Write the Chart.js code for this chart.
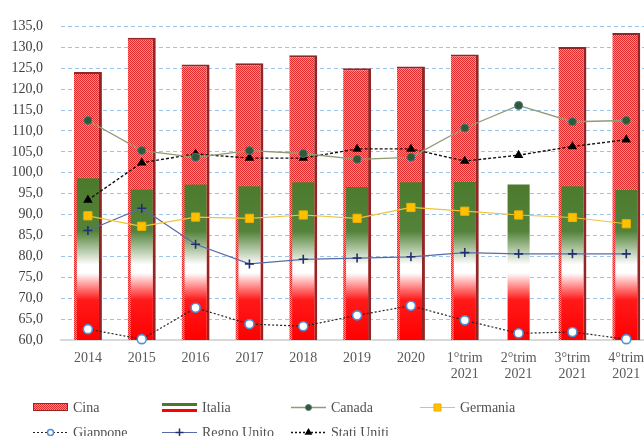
<!DOCTYPE html>
<html><head><meta charset="utf-8">
<script src="https://cdn.jsdelivr.net/npm/chart.js@4"></script>
<style>html,body{margin:0;padding:0;overflow:hidden;background:#fff}canvas{display:block}</style>
</head><body>
<canvas id="c" width="660" height="436"></canvas>
<script>
const categories = ['2014','2015','2016','2017','2018','2019','2020',['1°trim','2021'],['2°trim','2021'],['3°trim','2021'],['4°trim','2021']];
const cina       = [124.1,132.3,125.9,126.2,128.1,125.0,125.4,128.3,null,130.1,133.4];
const italia     = [98.7,96.0,97.2,96.8,97.7,96.6,97.7,97.8,97.2,96.8,95.9];
const canada     = [112.5,105.3,103.7,105.3,104.6,103.2,103.7,110.7,116.1,112.2,112.5];
const germania   = [89.7,87.2,89.4,89.1,89.9,89.1,91.7,90.8,89.9,89.3,87.8];
const giappone   = [62.6,60.2,67.7,63.8,63.3,65.9,68.2,64.7,61.6,61.9,60.2];
const regnoUnito = [86.2,91.5,82.9,78.2,79.3,79.6,79.9,80.9,80.6,80.6,80.6];
const statiUniti = [93.5,102.4,104.5,103.5,103.5,105.7,105.7,102.8,104.2,106.3,107.9];

const canvas = document.getElementById('c');
const ctx2d = canvas.getContext('2d');
const FONT = '"Liberation Serif", "DejaVu Serif", serif';

function makePattern(c){
  const p = document.createElement('canvas'); p.width = 2; p.height = 2;
  const g = p.getContext('2d');
  g.fillStyle = '#f59090'; g.fillRect(0,0,2,2);
  g.fillStyle = '#e42a2a'; g.fillRect(0,0,1,1); g.fillRect(1,1,1,1);
  return c.createPattern(p,'repeat');
}
const cinaPattern = makePattern(ctx2d);

function italiaGrad(context){
  const chart = context.chart;
  const area = chart.chartArea;
  if (!area) return '#4b7a2b';
  const y = chart.scales.y;
  const g = chart.ctx.createLinearGradient(0, y.getPixelForValue(100), 0, y.getPixelForValue(60));
  g.addColorStop(0, '#4a792a');
  g.addColorStop(0.35, '#53823a');
  g.addColorStop(0.45, '#a9c19b');
  g.addColorStop(0.55, '#ffffff');
  g.addColorStop(0.6, '#ffffff');
  g.addColorStop(0.68, '#ff8a8a');
  g.addColorStop(0.76, '#ff1a1a');
  g.addColorStop(1, '#ff0000');
  return g;
}

function drawMarker(c, style, x, y, r, fill, stroke, lw){
  c.save();
  c.beginPath();
  c.lineWidth = lw; c.fillStyle = fill; c.strokeStyle = stroke;
  if (style === 'circle'){ c.arc(x,y,r,0,Math.PI*2); c.fill(); if (lw) c.stroke(); }
  else if (style === 'rect'){ const s = Math.SQRT1_2*r; c.rect(x-s,y-s,2*s,2*s); c.fill(); if (lw) c.stroke(); }
  else if (style === 'triangle'){
    c.moveTo(x, y - r); c.lineTo(x + r*0.866, y + r*0.5); c.lineTo(x - r*0.866, y + r*0.5); c.closePath(); c.fill(); if (lw) c.stroke();
  }
  else if (style === 'cross'){ c.moveTo(x-r,y); c.lineTo(x+r,y); c.moveTo(x,y-r); c.lineTo(x,y+r); c.stroke(); }
  c.restore();
}

const legendItems = [
  {label:'Cina', kind:'cina', col:0, row:0},
  {label:'Italia', kind:'italia', col:1, row:0},
  {label:'Canada', kind:'line', col:2, row:0, line:'#8e9b74', dash:[], lw:1.3, ps:'circle', r:3, fill:'#2e5c2e', stroke:'#50708c', plw:1},
  {label:'Germania', kind:'line', col:3, row:0, line:'#f2c23a', dash:[], lw:1.2, ps:'rect', r:5, fill:'#ffc000', stroke:'#f0b000', plw:1},
  {label:'Giappone', kind:'line', col:0, row:1, line:'#222', dash:[2,2], lw:1.2, ps:'circle', r:3, fill:'#ffffff', stroke:'#4a90d9', plw:1.5},
  {label:'Regno Unito', kind:'line', col:1, row:1, line:'#5a6aa6', dash:[], lw:1.2, ps:'cross', r:4, fill:'#203070', stroke:'#203070', plw:1.5},
  {label:'Stati Uniti', kind:'line', col:2, row:1, line:'#111', dash:[2,2], lw:1.3, ps:'triangle', r:4.5, fill:'#000', stroke:'#000', plw:0}
];
const legendPlugin = {
  id:'gridLegend',
  afterDraw(chart){
    const c = chart.ctx;
    const colX = [33,162,291,420];
    const rowY = [407,432];
    legendItems.forEach(it => {
      const x = colX[it.col], y = rowY[it.row];
      c.save();
      if (it.kind === 'cina'){
        c.fillStyle = cinaPattern; c.fillRect(x, y-4, 35, 8);
        c.strokeStyle = '#922626'; c.lineWidth = 1; c.strokeRect(x+0.5, y-3.5, 34, 7);
      } else if (it.kind === 'italia'){
        c.fillStyle = '#4a792a'; c.fillRect(x, y-4, 35, 3);
        c.fillStyle = '#ff0000'; c.fillRect(x, y+2, 35, 3);
      } else {
        c.strokeStyle = it.line; c.lineWidth = it.lw; c.setLineDash(it.dash);
        c.beginPath(); c.moveTo(x, y+0.5); c.lineTo(x+35, y+0.5); c.stroke();
        c.setLineDash([]);
        drawMarker(c, it.ps, x+17.5, y+0.5, it.r, it.fill, it.stroke, it.plw);
      }
      c.fillStyle = '#505050';
      c.font = '14px ' + FONT;
      c.textBaseline = 'middle'; c.textAlign = 'left';
      c.fillText(it.label, x+40, y+1);
      c.restore();
    });
  }
};

new Chart(canvas, {
  type:'bar',
  data:{
    labels: categories,
    datasets:[
      {type:'line', label:'Canada', data:canada, borderColor:'#8e9b74', borderWidth:1.3, pointStyle:'circle', pointRadius:4, pointBackgroundColor:'#2e5c2e', pointBorderColor:'#50708c', pointBorderWidth:1, order:0, tension:0, clip:false},
      {type:'line', label:'Germania', data:germania, borderColor:'#f2c23a', borderWidth:1.2, pointStyle:'rect', pointRadius:5.8, pointBackgroundColor:'#ffc000', pointBorderColor:'#f0b000', pointBorderWidth:1, order:0, tension:0, clip:false},
      {type:'line', label:'Giappone', data:giappone, borderColor:'#222222', borderWidth:1.2, borderDash:[2,2], pointStyle:'circle', pointRadius:4.5, pointBackgroundColor:'#ffffff', pointBorderColor:'#4a90d9', pointBorderWidth:1.6, order:0, tension:0, clip:false},
      {type:'line', label:'Regno Unito', data:regnoUnito, borderColor:'#5a6aa6', borderWidth:1.2, pointStyle:'cross', pointRadius:4.5, pointBorderColor:'#203070', pointBorderWidth:1.6, order:0, tension:0, clip:false},
      {type:'line', label:'Stati Uniti', data:statiUniti, borderColor:'#111111', borderWidth:1.4, borderDash:[3,2], pointStyle:'triangle', pointRadius:5.5, pointBackgroundColor:'#000000', pointBorderColor:'#000000', pointBorderWidth:0, order:0, tension:0, clip:false},
      {type:'bar', label:'Italia', data:italia, backgroundColor:italiaGrad, barPercentage:0.41, categoryPercentage:1, order:1},
      {type:'bar', label:'Cina', data:cina, backgroundColor:cinaPattern, borderColor:'#922626', borderWidth:{top:2,right:3,left:0,bottom:0}, borderSkipped:false, barPercentage:0.52, categoryPercentage:1, order:2}
    ]
  },
  options:{
    responsive:false, animation:false, devicePixelRatio:1,
    layout:{padding:{top:21,right:5,left:0,bottom:0}},
    plugins:{legend:{display:false}, tooltip:{enabled:false}},
    scales:{
      x:{
        stacked:true, offset:true,
        grid:{display:false, drawTicks:false},
        border:{display:true, color:'#d9d9d9', width:2},
        ticks:{color:'#595959', font:{family:FONT, size:14, lineHeight:1.15}, padding:10, maxRotation:0, autoSkip:false},
        afterFit(s){ s.height = 96; }
      },
      y:{
        stacked:false, min:60, max:135,
        ticks:{stepSize:5, callback:v => v.toFixed(1).replace('.', ','), color:'#404040', font:{family:FONT, size:14}, padding:18},
        grid:{color:c => (c.tick && c.tick.value === 60) ? 'rgba(0,0,0,0)' : '#9cc3e8', drawTicks:false, lineWidth:1},
        border:{display:false, dash:[4,3]},
        afterFit(s){ s.width = 61; }
      }
    }
  },
  plugins:[legendPlugin]
});
</script>
</body></html>
